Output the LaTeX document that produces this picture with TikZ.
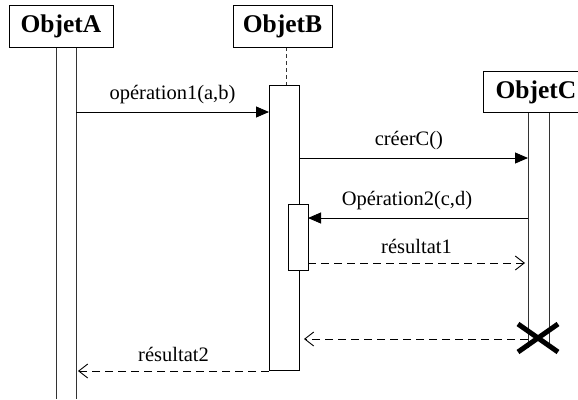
\documentclass[tikz,border=0pt]{standalone}
\usepackage{fontspec}
\setmainfont{Liberation Serif}
\usetikzlibrary{arrows.meta,calc}
\tikzset{
  obj/.style={draw, line width=0.9pt, fill=white, inner sep=0pt, font=\fontsize{25.5}{30}\selectfont\bfseries},
  actbox/.style={draw, line width=0.8pt, fill=white, inner sep=0pt},
  life/.style={line width=0.8pt, black!80},
  msg/.style={line width=0.9pt, -{Triangle[length=13pt,width=11pt]}},
  ret/.style={line width=0.9pt, dash pattern=on 8pt off 5pt, -{Straight Barb[length=9pt,width=14pt,line width=0.9pt]}},
  lbl/.style={font=\fontsize{20.5}{24}\selectfont, inner sep=0pt}
}
\begin{document}
\begin{tikzpicture}[x=1pt,y=-1pt]
\useasboundingbox (0,0) rectangle (578,399);
\clip (0,0) rectangle (578,399);
% lifelines
\draw[life] (56,47) -- (56,399) (76,47) -- (76,399);
\draw[life] (528,112) -- (528,348) (549,112) -- (549,348);
\draw[line width=0.8pt, black!80, dash pattern=on 4pt off 3pt] (286,47) -- (286,85);
% header boxes
\node[obj, minimum width=104pt, minimum height=42pt] (A) at (61,26) {ObjetA};
\node[obj, minimum width=99pt, minimum height=42pt] (B) at (282.5,26) {ObjetB};
\node[obj, minimum width=104pt, minimum height=41pt, anchor=north west] (C) at (483,71) {\hspace*{0pt}};
\node[font=\fontsize{25.5}{30}\selectfont\bfseries, inner sep=0pt] (Ct) at (536,92) {ObjetC};
% activations
\node[actbox, minimum width=30pt, minimum height=285pt] (actB) at (284,227.5) {};
\node[actbox, minimum width=20pt, minimum height=66pt] (actB2) at (298,237) {};
% coordinates
\coordinate (a1) at (76,112);
\coordinate (b1) at (269,112);
\coordinate (b2) at (299,158);
\coordinate (c2) at (528,158);
\coordinate (c3) at (528,218);
\coordinate (b3) at (308,218);
\coordinate (b4) at (308,263);
\coordinate (c4) at (525,263);
\coordinate (c5) at (528,339);
\coordinate (b5) at (304,339);
\coordinate (b6) at (269,371);
\coordinate (a6) at (78,371);
\coordinate (X) at (538,338);
% messages
\draw[msg] (a1) -- (b1) node[lbl, midway, above=8pt] {opération1(a,b)};
\draw[msg] (b2) -- (c2) node[lbl, pos=0.48, above=8pt] {créerC()};
\draw[msg] (c3) -- (b3) node[lbl, pos=0.55, above=8pt] {Opération2(c,d)};
\draw[ret] (b4) -- (c4) node[lbl, pos=0.5, above=9pt] {résultat1};
\draw[ret] (c5) -- (b5);
\draw[ret] (b6) -- (a6) node[lbl, pos=0.5, above=9pt] {résultat2};
% destruction
\draw[line width=5pt] ($(X)+(-20,-14)$) -- ($(X)+(20,14)$) ($(X)+(-20,14)$) -- ($(X)+(20,-14)$);
\end{tikzpicture}
\end{document}
